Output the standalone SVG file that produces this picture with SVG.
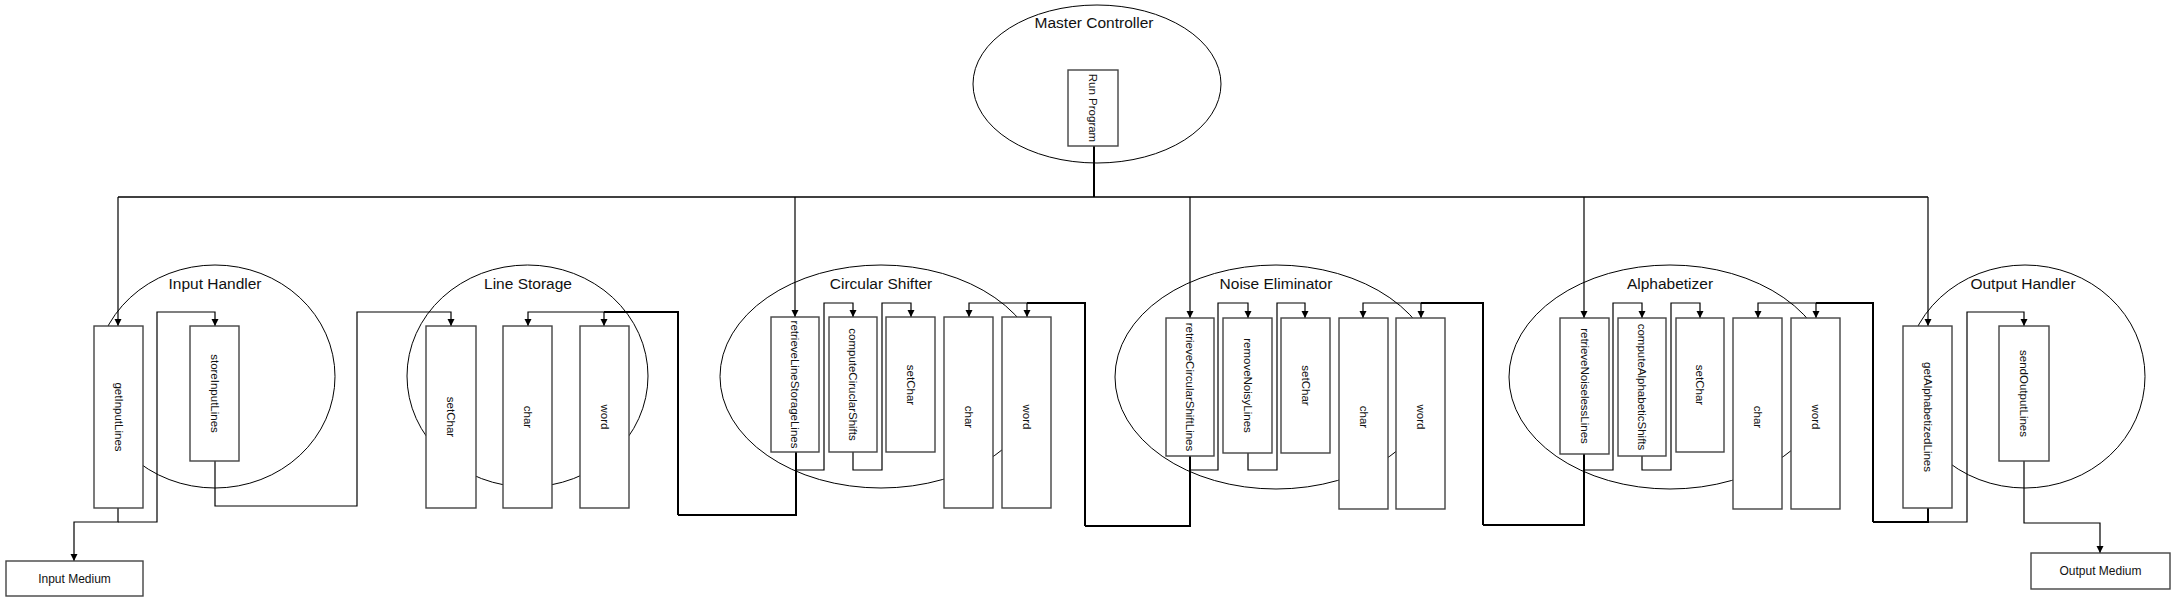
<svg xmlns="http://www.w3.org/2000/svg" width="2174" height="602" viewBox="0 0 2174 602">
<defs>
<marker id="arr" markerWidth="8" markerHeight="8" refX="7" refY="3.5" orient="auto" markerUnits="userSpaceOnUse">
<path d="M0,0 L7,3.5 L0,7 z" fill="#000"/>
</marker>
<style>
.ell{fill:none;stroke:#000;stroke-width:1}
.box{fill:#fff;stroke:#444;stroke-width:1.4}
.title{font-family:"Liberation Sans",Arial,sans-serif;font-size:15.5px;fill:#111;text-anchor:middle}
.lbl{font-family:"Liberation Sans",Arial,sans-serif;font-size:11.5px;fill:#111;text-anchor:middle;dominant-baseline:central}
.med{font-family:"Liberation Sans",Arial,sans-serif;font-size:12px;fill:#111;text-anchor:middle;dominant-baseline:central}
.c{fill:none;stroke:#000;stroke-width:1.2}
.t{fill:none;stroke:#000;stroke-width:2}
.a{marker-end:url(#arr)}
</style>
</defs>
<rect width="2174" height="602" fill="#fff"/>

<g id="connectors">
<path class="t" d="M1094,146 V197"/>
<path class="c" d="M118,197 H1928" style="stroke-width:1.6"/>
<path class="c a" d="M118,197 V326"/>
<path class="c a" d="M795,197 V317"/>
<path class="c a" d="M1190,197 V318"/>
<path class="c a" d="M1584,197 V318"/>
<path class="c a" d="M1928,197 V326"/>

<path class="c a" d="M118,508 V522 H74 V561"/>
<path class="c a" d="M118,522 H157 V312 H215 V326"/>
<path class="c a" d="M215,461 V506 H357 V312 H451 V326"/>

<path class="t" d="M678,515 V312 H604"/>
<path class="c a" d="M604,312 H528 V326"/>
<path class="c a" d="M604,312 V326"/>
<path class="t" d="M678,515 H796 V452"/>

<path class="c a" d="M796,470 H824 V303 H853 V317"/>
<path class="c a" d="M853,452 V470 H882 V303 H911 V317"/>
<path class="t" d="M1085,526 V303 H1027"/>
<path class="c a" d="M1027,303 H969 V317"/>
<path class="c a" d="M1027,303 V317"/>
<path class="t" d="M1085,526 H1190 V456"/>

<path class="c a" d="M1190,470 H1218 V303 H1248 V318"/>
<path class="c a" d="M1248,453 V470 H1277 V303 H1305 V318"/>
<path class="t" d="M1483,525 V303 H1421"/>
<path class="c a" d="M1421,303 H1363 V318"/>
<path class="c a" d="M1421,303 V318"/>
<path class="t" d="M1483,525 H1584 V454"/>

<path class="c a" d="M1584,470 H1613 V303 H1642 V318"/>
<path class="c a" d="M1642,456 V470 H1671 V303 H1700 V318"/>
<path class="t" d="M1873,522 V303 H1816"/>
<path class="c a" d="M1816,303 H1758 V318"/>
<path class="c a" d="M1816,303 V318"/>
<path class="t" d="M1873,522 H1928 V508"/>

<path class="c a" d="M1928,522 H1967 V312 H2024 V326"/>
<path class="c a" d="M2024,461 V523 H2100 V553"/>
</g>

<g id="master-controller">
<ellipse class="ell" cx="1097" cy="84" rx="124" ry="79"/>
<text class="title" x="1094" y="28">Master Controller</text>
<g id="run-program">
<rect class="box" x="1068" y="70" width="50" height="76"/>
<text class="lbl" transform="translate(1093,108) rotate(90)">Run Program</text>
</g>
</g>

<g id="input-handler">
<ellipse class="ell" cx="215" cy="376.5" rx="120" ry="111.5"/>
<text class="title" x="215" y="289">Input Handler</text>
<g id="getInputLines">
<rect class="box" x="94" y="326" width="49" height="182"/>
<text class="lbl" transform="translate(118.5,417) rotate(90)">getInputLines</text>
</g>
<g id="storeInputLines">
<rect class="box" x="190" y="326" width="49" height="135"/>
<text class="lbl" transform="translate(214.5,393.5) rotate(90)">storeInputLines</text>
</g>
</g>

<g id="line-storage">
<ellipse class="ell" cx="527.5" cy="376" rx="120.5" ry="111"/>
<text class="title" x="528" y="289">Line Storage</text>
<g id="ls-setChar">
<rect class="box" x="426" y="326" width="50" height="182"/>
<text class="lbl" transform="translate(451,417) rotate(90)">setChar</text>
</g>
<g id="ls-char">
<rect class="box" x="503" y="326" width="49" height="182"/>
<text class="lbl" transform="translate(527.5,417) rotate(90)">char</text>
</g>
<g id="ls-word">
<rect class="box" x="580" y="326" width="49" height="182"/>
<text class="lbl" transform="translate(604.5,417) rotate(90)">word</text>
</g>
</g>

<g id="circular-shifter">
<ellipse class="ell" cx="881" cy="376.5" rx="161" ry="111.5"/>
<text class="title" x="881" y="289">Circular Shifter</text>
<g id="retrieveLineStorageLines">
<rect class="box" x="771" y="317" width="48" height="135"/>
<text class="lbl" transform="translate(795,384.5) rotate(90)">retrieveLineStorageLines</text>
</g>
<g id="computeCircularShifts">
<rect class="box" x="829" y="317" width="48" height="135"/>
<text class="lbl" transform="translate(853,384.5) rotate(90)">computeCiruclarShifts</text>
</g>
<g id="cs-setChar">
<rect class="box" x="886" y="317" width="49" height="135"/>
<text class="lbl" transform="translate(910.5,385) rotate(90)">setChar</text>
</g>
<g id="cs-char">
<rect class="box" x="944" y="317" width="49" height="191"/>
<text class="lbl" transform="translate(968.5,417) rotate(90)">char</text>
</g>
<g id="cs-word">
<rect class="box" x="1002" y="317" width="49" height="191"/>
<text class="lbl" transform="translate(1026.5,417) rotate(90)">word</text>
</g>
</g>

<g id="noise-eliminator">
<ellipse class="ell" cx="1276" cy="377" rx="161" ry="112"/>
<text class="title" x="1276" y="289">Noise Eliminator</text>
<g id="retrieveCircularShiftLines">
<rect class="box" x="1166" y="318" width="48" height="138"/>
<text class="lbl" transform="translate(1190,387) rotate(90)">retrieveCircularShiftLines</text>
</g>
<g id="removeNoisyLines">
<rect class="box" x="1223" y="318" width="49" height="135"/>
<text class="lbl" transform="translate(1247.5,385.5) rotate(90)">removeNoisyLines</text>
</g>
<g id="ne-setChar">
<rect class="box" x="1281" y="318" width="49" height="135"/>
<text class="lbl" transform="translate(1305.5,385.5) rotate(90)">setChar</text>
</g>
<g id="ne-char">
<rect class="box" x="1339" y="318" width="49" height="191"/>
<text class="lbl" transform="translate(1363.5,417) rotate(90)">char</text>
</g>
<g id="ne-word">
<rect class="box" x="1396" y="318" width="49" height="191"/>
<text class="lbl" transform="translate(1420.5,417) rotate(90)">word</text>
</g>
</g>

<g id="alphabetizer">
<ellipse class="ell" cx="1670" cy="377" rx="161" ry="112"/>
<text class="title" x="1670" y="289">Alphabetizer</text>
<g id="retrieveNoiselessLines">
<rect class="box" x="1560" y="318" width="49" height="136"/>
<text class="lbl" transform="translate(1584.5,386) rotate(90)">retrieveNoiselessLines</text>
</g>
<g id="computeAlphabeticShifts">
<rect class="box" x="1618" y="318" width="48" height="138"/>
<text class="lbl" transform="translate(1642,387) rotate(90)">computeAlphabeticShifts</text>
</g>
<g id="al-setChar">
<rect class="box" x="1676" y="318" width="48" height="134"/>
<text class="lbl" transform="translate(1700,385) rotate(90)">setChar</text>
</g>
<g id="al-char">
<rect class="box" x="1733" y="318" width="49" height="191"/>
<text class="lbl" transform="translate(1757.5,417) rotate(90)">char</text>
</g>
<g id="al-word">
<rect class="box" x="1791" y="318" width="49" height="191"/>
<text class="lbl" transform="translate(1815.5,417) rotate(90)">word</text>
</g>
</g>

<g id="output-handler">
<ellipse class="ell" cx="2025" cy="376.5" rx="120" ry="111.5"/>
<text class="title" x="2023" y="289">Output Handler</text>
<g id="getAlphabetizedLines">
<rect class="box" x="1903" y="326" width="49" height="182"/>
<text class="lbl" transform="translate(1927.5,417) rotate(90)">getAlphabetizedLines</text>
</g>
<g id="sendOutputLines">
<rect class="box" x="1999" y="326" width="50" height="135"/>
<text class="lbl" transform="translate(2024,393.5) rotate(90)">sendOutputLines</text>
</g>
</g>

<g id="input-medium">
<rect class="box" x="6" y="561" width="137" height="35"/>
<text class="med" x="74.5" y="579">Input Medium</text>
</g>
<g id="output-medium">
<rect class="box" x="2031" y="553" width="139" height="36"/>
<text class="med" x="2100.5" y="571">Output Medium</text>
</g>
</svg>
